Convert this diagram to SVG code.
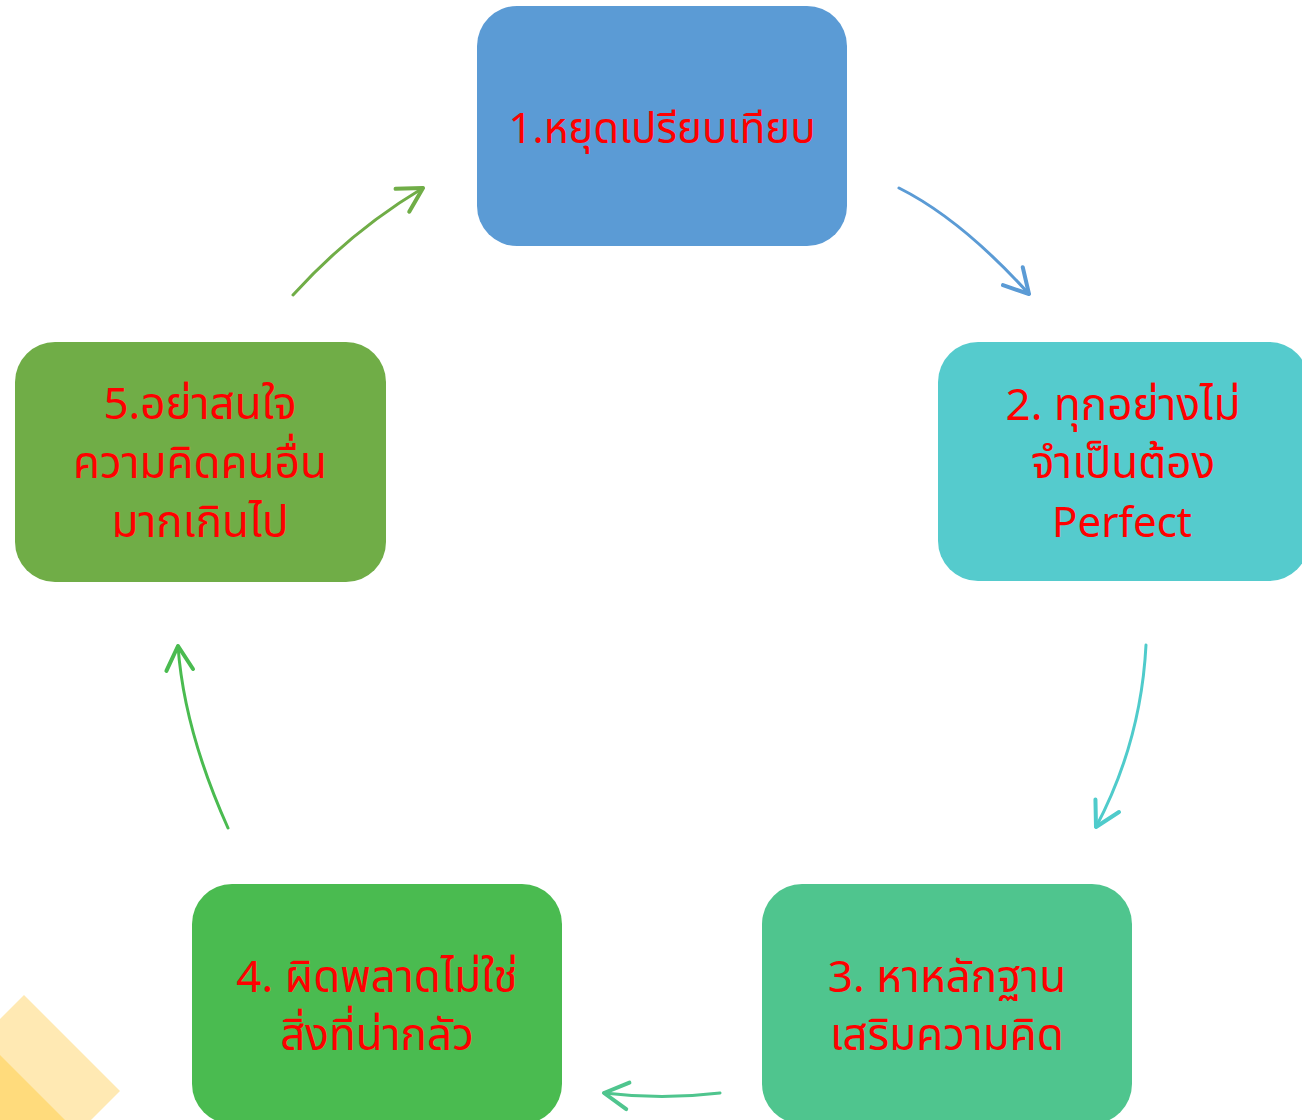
<svg xmlns="http://www.w3.org/2000/svg" width="1302" height="1120" viewBox="0 0 1302 1120">
<style>
.box{stroke:none}
.t{font-family:"Noto Sans Thai","Noto Sans","DejaVu Sans",sans-serif;font-size:44px;fill:#FF0000;text-anchor:middle}
.c{fill:none;stroke-width:3;stroke-linecap:round}
</style>
<defs>
<marker id="m1" markerUnits="userSpaceOnUse" markerWidth="40" markerHeight="40" viewBox="-22 -15 26 30" refX="0" refY="0" orient="auto"><path d="M-18,-10 L0,0 L-18,10" fill="none" stroke="#5B9BD5" stroke-width="3" stroke-linecap="round" stroke-linejoin="round"/></marker>
<marker id="m2" markerUnits="userSpaceOnUse" markerWidth="40" markerHeight="40" viewBox="-22 -15 26 30" refX="0" refY="0" orient="auto"><path d="M-18,-10 L0,0 L-18,10" fill="none" stroke="#4FCBCB" stroke-width="3" stroke-linecap="round" stroke-linejoin="round"/></marker>
<marker id="m3" markerUnits="userSpaceOnUse" markerWidth="40" markerHeight="40" viewBox="-22 -15 26 30" refX="0" refY="0" orient="auto"><path d="M-18,-10 L0,0 L-18,10" fill="none" stroke="#4FC58E" stroke-width="3" stroke-linecap="round" stroke-linejoin="round"/></marker>
<marker id="m4" markerUnits="userSpaceOnUse" markerWidth="40" markerHeight="40" viewBox="-22 -15 26 30" refX="0" refY="0" orient="auto"><path d="M-18,-10 L0,0 L-18,10" fill="none" stroke="#4ABB50" stroke-width="3" stroke-linecap="round" stroke-linejoin="round"/></marker>
<marker id="m5" markerUnits="userSpaceOnUse" markerWidth="40" markerHeight="40" viewBox="-22 -15 26 30" refX="0" refY="0" orient="auto"><path d="M-18,-10 L0,0 L-18,10" fill="none" stroke="#70AD47" stroke-width="3" stroke-linecap="round" stroke-linejoin="round"/></marker>
</defs>
<rect width="1302" height="1120" fill="#FFFFFF"/>
<g id="decor">
<polygon points="0,1019 24,995 120,1091 91,1120 0,1120" fill="#FFE9B3"/>
<polygon points="0,1055 65,1120 0,1120" fill="#FFDB7C"/>
</g>
<g id="connectors">
<path class="c" d="M899,188 Q961,219 1029,294" stroke="#5B9BD5" marker-end="url(#m1)"/>
<path class="c" d="M1146,645 Q1141,742 1096,827" stroke="#4FCBCB" marker-end="url(#m2)"/>
<path class="c" d="M720,1093 Q662,1100 604,1093" stroke="#4FC58E" marker-end="url(#m3)"/>
<path class="c" d="M228,828 Q184,730 178,646" stroke="#4ABB50" marker-end="url(#m4)"/>
<path class="c" d="M293,295 Q351,231 423,188" stroke="#70AD47" marker-end="url(#m5)"/>
</g>
<g id="node1">
<rect class="box" x="477" y="6" width="370" height="240" rx="40" fill="#5B9BD5"/>
<text class="t" x="662" y="143" style="font-size:42px">1.หยุดเปรียบเทียบ</text>
</g>
<g id="node2">
<rect class="box" x="938" y="342" width="371" height="239" rx="40" fill="#55CBCD"/>
<text class="t" x="1123" y="420">2. ทุกอย่างไม่</text>
<text class="t" x="1123" y="478">จำเป็นต้อง</text>
<text class="t" x="1122" y="537" style="font-size:42px">Perfect</text>
</g>
<g id="node3">
<rect class="box" x="762" y="884" width="370" height="240" rx="40" fill="#4FC58E"/>
<text class="t" x="947" y="992">3. หาหลักฐาน</text>
<text class="t" x="947" y="1050">เสริมความคิด</text>
</g>
<g id="node4">
<rect class="box" x="192" y="884" width="370" height="240" rx="40" fill="#4ABB50"/>
<text class="t" x="377" y="992">4. ผิดพลาดไม่ใช่</text>
<text class="t" x="377" y="1050">สิ่งที่น่ากลัว</text>
</g>
<g id="node5">
<rect class="box" x="15" y="342" width="371" height="240" rx="40" fill="#70AD47"/>
<text class="t" x="200" y="419">5.อย่าสนใจ</text>
<text class="t" x="200" y="478">ความคิดคนอื่น</text>
<text class="t" x="200" y="537">มากเกินไป</text>
</g>
</svg>
